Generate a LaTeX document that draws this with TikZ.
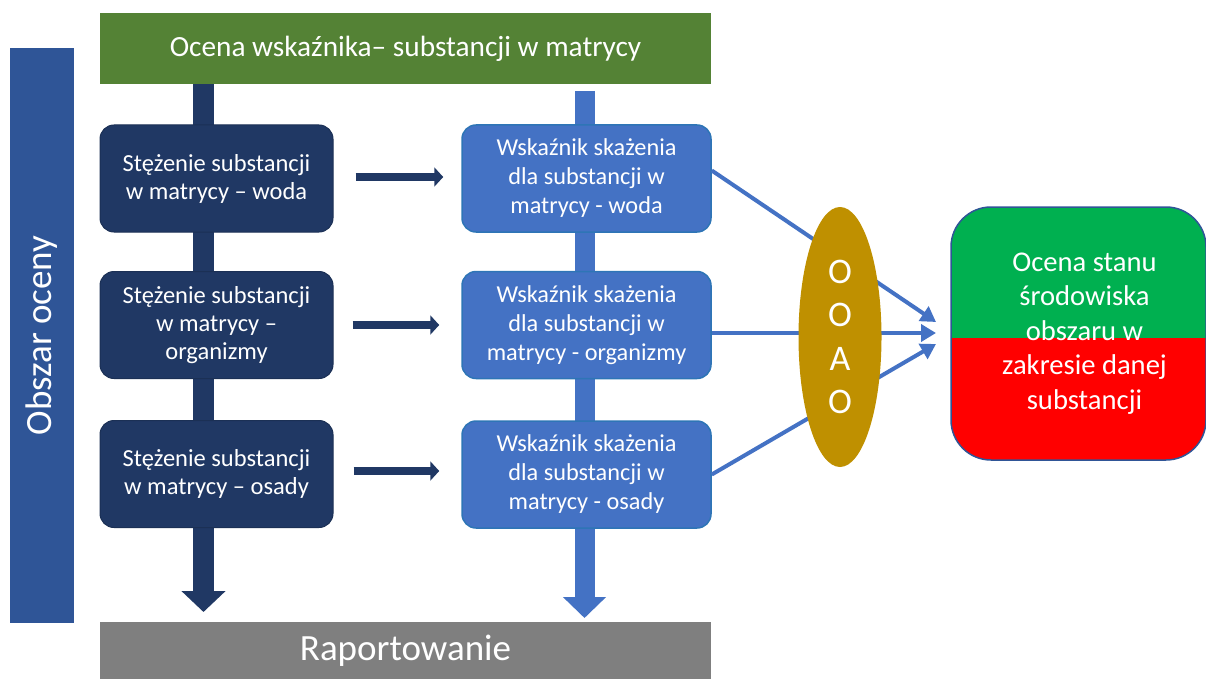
\documentclass[tikz,border=0pt]{standalone}
\usepackage{fontspec}
\setmainfont{Carlito}
\usetikzlibrary{arrows.meta,shapes.geometric,calc}
\definecolor{dkblue}{HTML}{203864}
\definecolor{barblue}{HTML}{2F5597}
\definecolor{midblue}{HTML}{4472C4}
\definecolor{edgeblue}{HTML}{2E75B6}
\definecolor{topgreen}{HTML}{548235}
\definecolor{repgray}{HTML}{7F7F7F}
\definecolor{gold}{HTML}{BF9000}
\definecolor{okgreen}{HTML}{00B050}
\definecolor{badred}{HTML}{FF0000}
\begin{document}
\begin{tikzpicture}[x=1pt,y=-1pt,
  band/.style={inner sep=0pt, text=white},
  darkbox/.style={fill=dkblue, draw=dkblue!85!black, line width=1pt, rounded corners=14pt,
    minimum width=233pt, minimum height=107pt, inner sep=0pt, text=white, align=center,
    font=\fontsize{24.5}{28}\selectfont},
  bluebox/.style={fill=midblue, draw=edgeblue, line width=1.5pt, rounded corners=14pt,
    minimum width=249pt, minimum height=107pt, inner sep=0pt, text=white, align=center,
    font=\fontsize{24.3}{29}\selectfont},
  smallarrow/.style={line width=8pt, dkblue, -{Triangle[length=9pt,width=19pt]}},
  linkarrow/.style={line width=4pt, midblue, -{Triangle[length=15pt,width=17pt]}}
]
\useasboundingbox (0,0) rectangle (1206,679);

% side bar
\node[band, fill=barblue, rotate=90, minimum width=575pt, minimum height=64pt,
      font=\fontsize{37}{44}\selectfont] (area) at (42,335.5) {Obszar oceny};

% top and bottom bands
\node[band, fill=topgreen, minimum width=611pt, minimum height=71pt,
      font=\fontsize{29.3}{34}\selectfont] (top) at (405.5,48.5) {Ocena wskaźnika– substancji w matrycy};
\node[band, fill=repgray, minimum width=611pt, minimum height=58pt,
      font=\fontsize{37}{44}\selectfont] (rep) at (405.5,651) {Raportowanie};

% vertical stems
\coordinate (dtip) at (203.5,612);
\coordinate (btip) at (584.5,618);
\coordinate (bstart) at (584.5,91);
\draw[line width=21pt, dkblue, -{Triangle[length=21pt,width=43pt]}] (top.south -| dtip) -- (dtip);
\draw[line width=20pt, midblue, -{Triangle[length=21pt,width=42pt]}] (bstart) -- (btip);

% boxes
\node[darkbox] (d1) at (216.5,178.5) {Stężenie substancji\\w matrycy – woda};
\node[darkbox] (d2) at (216.5,325) {Stężenie substancji\\w matrycy –\\organizmy};
\node[darkbox] (d3) at (216.5,474) {Stężenie substancji\\w matrycy – osady};
\node[bluebox] (b1) at (586.5,178.5) {Wskaźnik skażenia\\dla substancji w\\matrycy - woda};
\node[bluebox] (b2) at (586.5,325) {Wskaźnik skażenia\\dla substancji w\\matrycy - organizmy};
\node[bluebox] (b3) at (586.5,474.5) {Wskaźnik skażenia\\dla substancji w\\matrycy - osady};

% horizontal arrows
\draw[smallarrow] ([xshift=22pt,yshift=1.5pt]d1.east) -- ([xshift=-18pt,yshift=1.5pt]d1.east -| b1.west);
\draw[smallarrow] ([xshift=19pt]d2.east) -- ([xshift=-22pt]d2.east -| b2.west);
\draw[smallarrow] ([xshift=20pt,yshift=3pt]d3.east) -- ([xshift=-22pt,yshift=3pt]d3.east -| b3.west);

% links to the assessment
\coordinate (t1) at (936,322);
\coordinate (t2) at (936,333);
\coordinate (t3) at (936,344);
\draw[linkarrow] ([yshift=8pt]b1.east) -- (t1);
\draw[linkarrow] ([yshift=-8pt]b2.east) -- (t2);
\draw[linkarrow] (b3.east) -- (t3);

% OOAO ellipse
\node[ellipse, fill=gold, minimum width=83pt, minimum height=260pt, inner sep=0pt,
      text=white, align=center, font=\fontsize{36}{43.5}\selectfont] (oo) at (840,337) {O\\O\\A\\O};

% result box
\node[draw=barblue, line width=1.5pt, rounded corners=40pt, minimum width=255pt, minimum height=253pt,
      inner sep=0pt, text=white, font=\fontsize{28.6}{34.5}\selectfont,
      path picture={
        \fill[okgreen, sharp corners] (path picture bounding box.north west) rectangle ($(path picture bounding box.east)+(0,4.5)$);
        \fill[badred, sharp corners] ($(path picture bounding box.west)+(0,4.5)$) rectangle (path picture bounding box.south east);
      }] (st) at (1078.5,333.5)
  {\hspace*{12pt}\begin{tabular}{@{}c@{}}Ocena stanu\\środowiska\\obszaru w\\zakresie danej\\substancji\end{tabular}};
\end{tikzpicture}
\end{document}
